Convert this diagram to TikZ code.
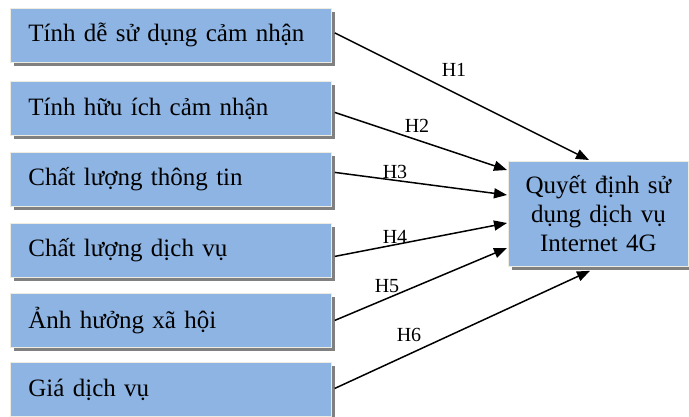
\documentclass[tikz,border=0pt]{standalone}
\usepackage{fontspec}
\setmainfont{Liberation Serif}
\usetikzlibrary{shadows,arrows.meta}
\definecolor{boxblue}{RGB}{141,180,227}
\definecolor{boxedge}{RGB}{238,236,225}
\tikzset{
  factor/.style={anchor=north west, fill=boxblue, draw=boxedge, line width=0.8pt,
    minimum height=54pt, text width=285pt, inner xsep=18pt, align=left,
    font=\fontsize{25}{29}\selectfont,
    drop shadow={shadow xshift=4pt, shadow yshift=-4pt, fill=gray, opacity=1}},
  target/.style={anchor=north west, fill=boxblue, draw=boxedge, line width=0.8pt,
    minimum height=105pt, text width=170pt, inner xsep=5pt, align=center,
    font=\fontsize{25}{29}\selectfont,
    drop shadow={shadow xshift=4pt, shadow yshift=-4pt, fill=gray, opacity=1}},
  link/.style={line width=1.5pt, -{Triangle[length=13pt,width=10pt]}},
  hlabel/.style={font=\fontsize{20}{22}\selectfont, inner sep=0pt}
}
\begin{document}
\begin{tikzpicture}[x=1pt,y=-1pt]
\useasboundingbox (0,0) rectangle (689,416);
\node[factor] (b1) at (10,8) {Tính dễ sử dụng cảm nhận};
\node[factor] (b2) at (10,81) {Tính hữu ích cảm nhận};
\node[factor] (b3) at (10,152) {Chất lượng thông tin};
\node[factor] (b4) at (10,223) {Chất lượng dịch vụ};
\node[factor] (b5) at (10,293) {Ảnh hưởng xã hội};
\node[factor] (b6) at (10,362) {Giá dịch vụ};
\node[target] (q) at (508,161) {Quyết định sử\\dụng dịch vụ\\Internet 4G};
\draw[link] ([xshift=3pt,yshift=2.5pt]b1.east) -- ([xshift=81pt,yshift=1pt]q.north west);
\draw[link] ([xshift=3pt,yshift=-4pt]b2.east) -- ([xshift=-1pt,yshift=-9pt]q.north west);
\draw[link] ([xshift=3pt,yshift=7pt]b3.east) -- ([xshift=-1pt,yshift=-34pt]q.north west);
\draw[link] ([xshift=3pt,yshift=-6pt]b4.east) -- ([xshift=-1pt,yshift=-62pt]q.north west);
\draw[link] ([xshift=3pt]b5.east) -- ([xshift=-1pt,yshift=-87pt]q.north west);
\draw[link] ([xshift=3pt,yshift=1pt]b6.east) -- ([xshift=82pt,yshift=-4pt]q.south west);
\node[hlabel] (h1) at (454,70) {H1};
\node[hlabel] (h2) at (417,126) {H2};
\node[hlabel] (h3) at (395,172) {H3};
\node[hlabel] (h4) at (395,237) {H4};
\node[hlabel] (h5) at (387,286) {H5};
\node[hlabel] (h6) at (409,335) {H6};
\end{tikzpicture}
\end{document}
